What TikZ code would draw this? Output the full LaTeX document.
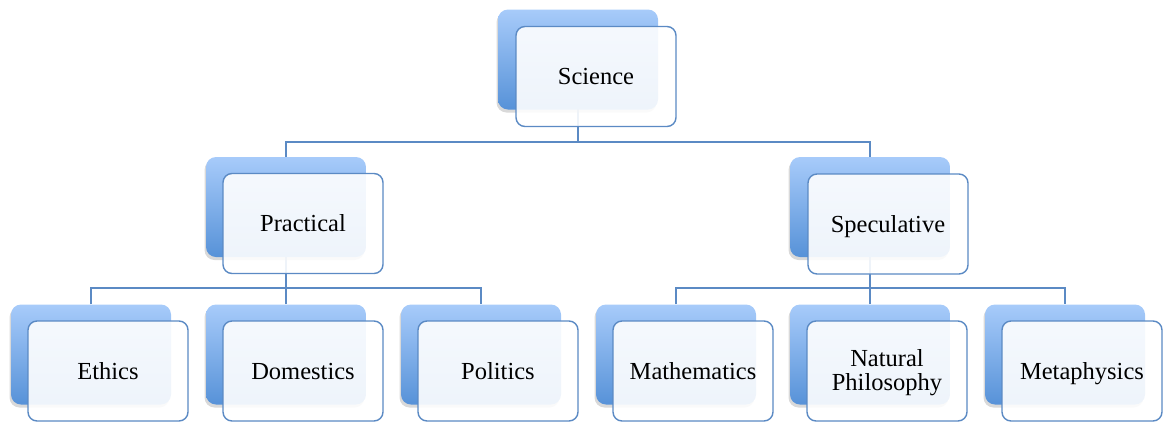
\documentclass[tikz,border=0pt]{standalone}
\usepackage{fontspec}
\setmainfont{Liberation Serif}
\usetikzlibrary{shadows,backgrounds}
\definecolor{lnblue}{HTML}{5B8AC4}
\definecolor{bktop}{HTML}{A7CBFA}
\definecolor{bkbot}{HTML}{5792D8}
\tikzset{
 backbox/.style={rounded corners=10pt, minimum width=160pt, minimum height=100pt, inner sep=0pt,
   top color=bktop, bottom color=bkbot, draw=none,
   drop shadow={shadow xshift=-1.5pt, shadow yshift=-3pt, opacity=0.3}},
 frontbox/.style={rounded corners=9pt, minimum width=160pt, minimum height=100pt, inner sep=0pt,
   draw=lnblue, line width=1.4pt, fill=white, fill opacity=0.9, text opacity=1,
   font=\fontsize{24.5}{24}\selectfont, align=center, text height=17pt, text depth=1pt},
 conn/.style={draw=lnblue, line width=1.5pt}
}
\begin{document}
\begin{tikzpicture}[x=1pt,y=-1pt]
\useasboundingbox (0,0) rectangle (1163,421);
% back boxes
\node[backbox] (sciB) at (578,59.5) {};
\node[backbox] (pracB) at (286,207) {};
\node[backbox] (specB) at (870,207) {};
\node[backbox] (ethB) at (91,354.5) {};
\node[backbox] (domB) at (286,354.5) {};
\node[backbox] (polB) at (481,354.5) {};
\node[backbox] (mathB) at (676,354.5) {};
\node[backbox] (natB) at (870,354.5) {};
\node[backbox] (metB) at (1065,354.5) {};
% front boxes
\node[frontbox] (sciF) at (596,76.5) {Science};
\node[frontbox] (pracF) at (303,223.5) {Practical};
\node[frontbox] (specF) at (888,224) {Speculative};
\node[frontbox] (ethF) at (108,371) {Ethics};
\node[frontbox] (domF) at (303,371) {Domestics};
\node[frontbox] (polF) at (498,371) {Politics};
\node[frontbox] (mathF) at (693,371) {Mathematics};
\node[frontbox, text height=40pt, text depth=2pt] (natF) at (887,371) {Natural\\Philosophy};
\node[frontbox] (metF) at (1082,371) {Metaphysics};
% junctions
\coordinate (j0) at (578,142);
\coordinate (j1) at (286,288);
\coordinate (j2) at (870,288);
\begin{scope}[on background layer]
\draw[conn] (sciB.center) -- (j0);
\draw[conn] (pracB.north) |- (j0) -| (specB.north);
\draw[conn] (pracB.center) -- (j1);
\draw[conn] (ethB.north) |- (j1) -| (polB.north);
\draw[conn] (domB.north) -- (j1);
\draw[conn] (specB.center) -- (j2);
\draw[conn] (mathB.north) |- (j2) -| (metB.north);
\draw[conn] (natB.north) -- (j2);
\end{scope}
\end{tikzpicture}
\end{document}
